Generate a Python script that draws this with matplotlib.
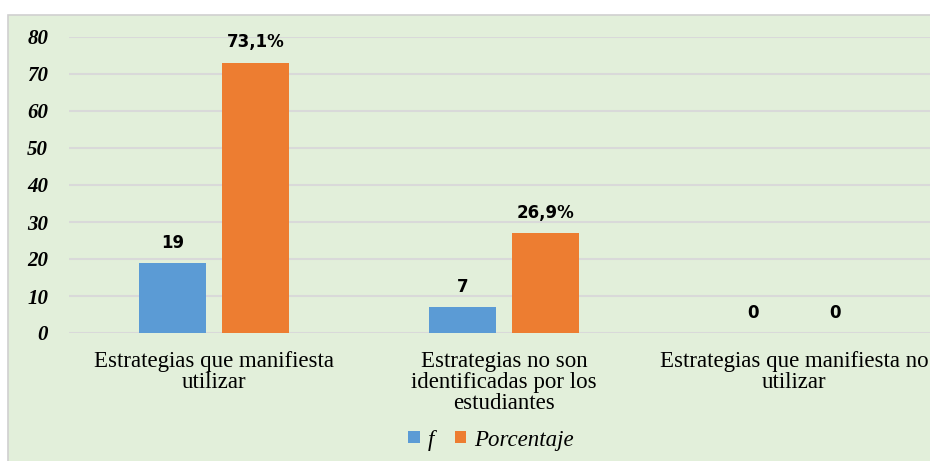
import matplotlib.pyplot as plt
from matplotlib.patches import Rectangle
import numpy as np

# Datos
categorias = ['Estrategias que manifiesta\nutilizar',
              'Estrategias no son\nidentificadas por los\nestudiantes',
              'Estrategias que manifiesta no\nutilizar']
frecuencia = [19, 7, 0]
porcentaje = [73.1, 26.9, 0]
etiquetas_f = ['19', '7', '0']
etiquetas_p = ['73,1%', '26,9%', '0']
ticks_y = [0, 10, 20, 30, 40, 50, 60, 70, 80]

azul = '#5B9BD5'
naranja = '#ED7D31'
fondo = '#E2EFDA'
rejilla = '#D9D9D9'

fig = plt.figure(figsize=(9.3, 4.61), dpi=100)
fig.patch.set_facecolor('white')

# Fondo verde del gráfico (recortado a la derecha y abajo)
fig.patches.append(Rectangle((8 / 930, -0.05), 1.2, 0.05 + (461 - 15) / 461,
                             transform=fig.transFigure, facecolor=fondo,
                             edgecolor='#D0D0D0', linewidth=1.2, zorder=-5))

ax = fig.add_axes([69 / 930, 128 / 461, 870 / 930, 296 / 461])
ax.set_facecolor('none')
ax.set_zorder(2)

x = np.arange(len(categorias))
ancho = 0.228
desp = 0.143

b1 = ax.bar(x - desp, frecuencia, ancho, color=azul, label='f', zorder=3)
b2 = ax.bar(x + desp, porcentaje, ancho, color=naranja, label='Porcentaje', zorder=3)

for rects, textos in ((b1, etiquetas_f), (b2, etiquetas_p)):
    for r, t in zip(rects, textos):
        ax.annotate(t, (r.get_x() + r.get_width() / 2, r.get_height()),
                    xytext=(0, 8), textcoords='offset points',
                    ha='center', va='bottom', fontsize=12, fontweight='bold',
                    family='DejaVu Sans', annotation_clip=False)

ax.set_xlim(-0.5, 2.5)
ax.set_ylim(0, 80)
ax.set_yticks(ticks_y)
ax.set_yticklabels([str(v) for v in ticks_y], fontsize=15, fontweight='bold',
                   fontstyle='italic', family='Liberation Serif')
ax.set_xticks(x)
ax.set_xticklabels(categorias, fontsize=16.5, family='Liberation Serif',
                   linespacing=1.0)
ax.tick_params(axis='y', length=0, pad=15)
ax.tick_params(axis='x', length=0, pad=13)

ax.grid(axis='y', color=rejilla, linewidth=1.5, zorder=0)
for s in ax.spines.values():
    s.set_visible(False)

fig.legend(handles=[b1, b2], labels=['f', 'Porcentaje'], loc='center',
           bbox_to_anchor=(491 / 930, 21 / 461), ncol=2, frameon=False,
           prop={'family': 'Liberation Serif', 'style': 'italic', 'size': 16.5},
           handlelength=0.5, handleheight=0.45, handletextpad=0.35,
           columnspacing=0.9)

fig.savefig('out.png', dpi=100)
